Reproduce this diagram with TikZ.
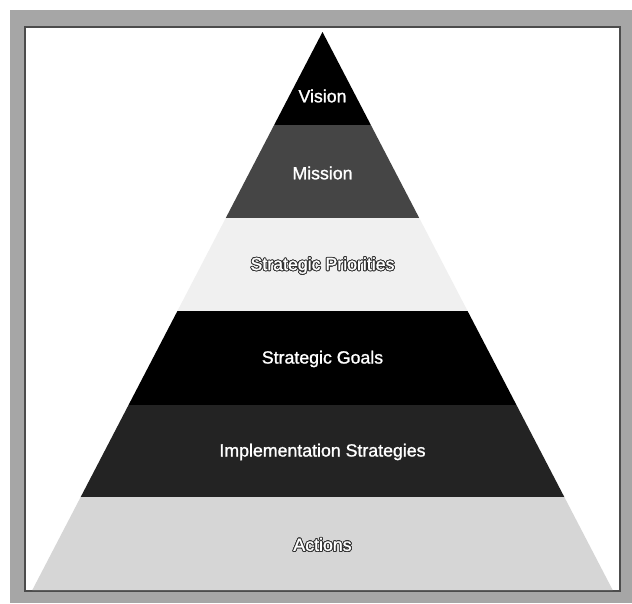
\documentclass[tikz,border=0pt]{standalone}
\usepackage{fontspec}
\setmainfont{Liberation Sans}[FakeBold=1.2]
\usepackage{contour}
\contourlength{0.5pt}
\usetikzlibrary{calc}
\definecolor{framegrey}{HTML}{A6A6A6}
\definecolor{missiongrey}{HTML}{454545}
\definecolor{prioritygrey}{HTML}{F0F0F0}
\definecolor{implgrey}{HTML}{232323}
\definecolor{actiongrey}{HTML}{D6D6D6}
\tikzset{lvl/.style={text=white,font=\fontsize{10.1}{12}\selectfont,inner sep=1pt},
  lvlraised/.style={lvl}}
\newcommand{\raisedtext}[1]{\contour{black!80}{#1}}

\begin{document}
\begin{tikzpicture}[x=0.02cm,y=-0.02cm,node distance=1.86cm]
  \useasboundingbox (0,0) rectangle (632,603);
  % frame
  \fill[framegrey] (10,10) rectangle (632,603);
  \draw[draw=black!70,fill=white,line width=0.6pt] (25,27) rectangle (620,591);

  % band corners
  \coordinate (apex) at (322.5,32);
  \foreach \i/\y in {1/125,2/218,3/311,4/405,5/497,6/590} {
    \coordinate (l\i) at ({322.5-0.52*(\y-32)},\y);
    \coordinate (r\i) at ({322.5+0.52*(\y-32)},\y);
  }
  \fill[black] (apex) -- (l1) -- (r1) -- cycle;
  \fill[missiongrey] (l1) -- (l2) -- (r2) -- (r1) -- cycle;
  \fill[prioritygrey] (l2) -- (l3) -- (r3) -- (r2) -- cycle;
  \fill[black] (l3) -- (l4) -- (r4) -- (r3) -- cycle;
  \fill[implgrey] (l4) -- (l5) -- (r5) -- (r4) -- cycle;
  \fill[actiongrey] (l5) -- (l6) -- (r6) -- (r5) -- cycle;

  \node[lvl] (vision) at (322.5,96) {Vision};
  \node[lvl] (mission) at (322.5,173) {Mission};
  \node[lvlraised,below of=mission] (priorities) {\raisedtext{Strategic Priorities}};
  \node[lvl,below of=priorities] (goals) {Strategic Goals};
  \node[lvl,below of=goals] (implementation) {Implementation Strategies};
  \node[lvlraised,below of=implementation] (actions) {\raisedtext{Actions}};
\end{tikzpicture}
\end{document}
